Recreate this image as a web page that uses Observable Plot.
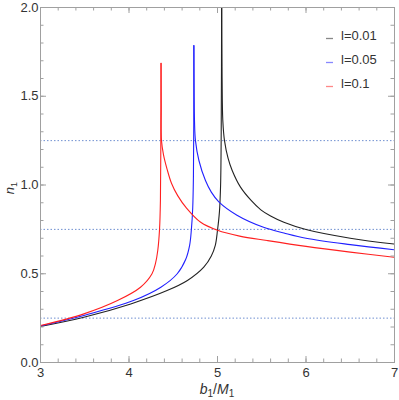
<!DOCTYPE html>
<html>
<head>
<meta charset="utf-8">
<script src="https://cdn.jsdelivr.net/npm/d3@7"></script>
<script src="https://cdn.jsdelivr.net/npm/@observablehq/plot@0.6"></script>
<style>
  html, body { margin: 0; padding: 0; background: #fff; }
  #chart { position: relative; width: 399px; height: 400px; }
</style>
</head>
<body>
<div id="chart"></div>
<script>
// Series labels and colours
const seriesLabels = ["l=0.01", "l=0.05", "l=0.1"];
const seriesColors = ["#222222", "#2020ff", "#ff2020"];
const swatchColors = ["#888888", "#8888ff", "#ff8888"];

// l = 0.01 (black): lower and upper branches [b1/M1, n1]
const l001Lower = [[3,0.203],[3.49,0.255],[4.02,0.33],[4.43,0.405],[4.66,0.462],[4.845,0.537],[4.93,0.60],[4.975,0.66],[5.0,0.745],[5.022,0.85],[5.035,1.0],[5.042,1.3],[5.047,2.1]];
const l001Upper = [[5.047,2.1],[5.052,1.6],[5.06,1.363],[5.079,1.25],[5.12,1.15],[5.166,1.082],[5.26,0.988],[5.38,0.913],[5.49,0.86],[5.6,0.825],[5.75,0.79],[6.0,0.749],[6.5,0.70],[7.0,0.667]];

// l = 0.05 (blue)
const l005Lower = [[3,0.206],[3.49,0.265],[4.05,0.349],[4.36,0.424],[4.545,0.5],[4.64,0.58],[4.685,0.66],[4.705,0.75],[4.72,0.87],[4.728,1.05],[4.732,1.35],[4.733,1.786]];
const l005Upper = [[4.733,1.786],[4.736,1.5],[4.74,1.363],[4.751,1.25],[4.79,1.138],[4.864,1.025],[4.93,0.96],[5.015,0.905],[5.22,0.83],[5.52,0.762],[5.75,0.73],[6.0,0.70],[6.5,0.664],[7.0,0.635]];

// l = 0.1 (red)
const l01Lower = [[3,0.208],[3.49,0.274],[3.87,0.349],[4.13,0.424],[4.26,0.5],[4.30,0.56],[4.325,0.631],[4.345,0.75],[4.355,0.913],[4.36,1.3],[4.362,1.686]];
const l01Upper = [[4.362,1.686],[4.364,1.45],[4.367,1.25],[4.39,1.17],[4.43,1.09],[4.48,1.01],[4.55,0.94],[4.65,0.87],[4.81,0.79],[5.0,0.745],[5.25,0.712],[5.56,0.687],[6.0,0.654],[6.5,0.622],[7.0,0.593]];

// Reference levels (dotted)
const refLevels = [0.25, 0.75, 1.25];

// Ticks
const xTicks = [3, 4, 5, 6, 7];
const yTicks = [0, 0.5, 1.0, 1.5, 2.0];
const xMinor = d3.range(3, 7.0001, 0.2).map(v => +v.toFixed(2));
const yMinor = d3.range(0, 2.0001, 0.1).map(v => +v.toFixed(2));

const branches = [
  {s: 0, pts: l001Lower}, {s: 0, pts: l001Upper},
  {s: 1, pts: l005Lower}, {s: 1, pts: l005Upper},
  {s: 2, pts: l01Lower}, {s: 2, pts: l01Upper}
];
const rows = branches.flatMap((b, i) => b.pts.map(([x, y]) => ({x, y, branch: i, series: seriesLabels[b.s]})));

const W = 399, H = 400, mL = 40, mR = 5, mT = 7, mB = 38;
const innerW = W - mL - mR, innerH = H - mT - mB;
const frameGray = "#a0a0a0";
const font = "'Liberation Sans', Arial, sans-serif";

const chart = Plot.plot({
  width: W, height: H,
  marginLeft: mL, marginRight: mR, marginTop: mT, marginBottom: mB,
  style: {fontFamily: font, background: "#fff"},
  x: {domain: [3, 7]},
  y: {domain: [0, 2]},
  color: {domain: seriesLabels, range: seriesColors},
  marks: [
    Plot.ruleY(refLevels, {y: d => d, stroke: "#6f8fd0", strokeWidth: 1, strokeDasharray: "1.5,2"}),
    Plot.line(rows, {x: "x", y: "y", z: "branch", stroke: "series", strokeWidth: 1.1, curve: "catmull-rom", clip: true}),
    Plot.frame({stroke: frameGray, strokeWidth: 1}),
    // inward ticks: bottom/top
    Plot.ruleX(xTicks, {x: d => d, insetTop: innerH - 6, stroke: frameGray}),
    Plot.ruleX(xMinor, {x: d => d, insetTop: innerH - 3.5, stroke: frameGray}),
    Plot.ruleX(xTicks, {x: d => d, insetBottom: innerH - 6, stroke: frameGray}),
    Plot.ruleX(xMinor, {x: d => d, insetBottom: innerH - 3.5, stroke: frameGray}),
    // inward ticks: left/right
    Plot.ruleY(yTicks, {y: d => d, insetRight: innerW - 6, stroke: frameGray}),
    Plot.ruleY(yMinor, {y: d => d, insetRight: innerW - 3.5, stroke: frameGray}),
    Plot.ruleY(yTicks, {y: d => d, insetLeft: innerW - 6, stroke: frameGray}),
    Plot.ruleY(yMinor, {y: d => d, insetLeft: innerW - 3.5, stroke: frameGray}),
    Plot.axisX({ticks: xTicks, tickSize: 0, tickPadding: 5, fontSize: 13, fill: "#333", label: null, tickFormat: d3.format("d")}),
    Plot.axisY({ticks: yTicks, tickSize: 0, tickPadding: 2, fontSize: 13, fill: "#333", label: null, tickFormat: d3.format(".1f")})
  ]
});
document.getElementById("chart").appendChild(chart);

// Legend entries and axis titles
const svg = d3.select(chart);
const leg = svg.append("g").attr("font-family", font).attr("font-size", 13).attr("fill", "#333").attr("text-anchor", "start");
seriesLabels.forEach((lab, i) => {
  const cy = 35 + i * 24;
  leg.append("line").attr("x1", 326).attr("x2", 333).attr("y1", cy + 3.5).attr("y2", cy + 3.5)
    .attr("stroke", swatchColors[i]).attr("stroke-width", 1.3);
  leg.append("text").attr("x", 341).attr("y", cy).attr("dy", "0.35em").text(lab);
});
const xl = svg.append("text").attr("x", 217).attr("y", 389).attr("dy", "0.35em")
  .attr("text-anchor", "middle").attr("font-family", font).attr("font-size", 14).attr("fill", "#333");
xl.append("tspan").attr("font-style", "italic").text("b");
xl.append("tspan").attr("font-size", 10).attr("dy", "3").text("1");
xl.append("tspan").attr("dy", "-3").text("/");
xl.append("tspan").attr("font-style", "italic").text("M");
xl.append("tspan").attr("font-size", 10).attr("dy", "3").text("1");
const yl = svg.append("text").attr("transform", "translate(9,188) rotate(-90)").attr("dy", "0.35em")
  .attr("text-anchor", "middle").attr("font-family", font).attr("font-size", 13).attr("fill", "#333");
yl.append("tspan").attr("font-style", "italic").text("n");
yl.append("tspan").attr("font-size", 9).attr("dy", "3").text("1");
</script>
</body>
</html>
